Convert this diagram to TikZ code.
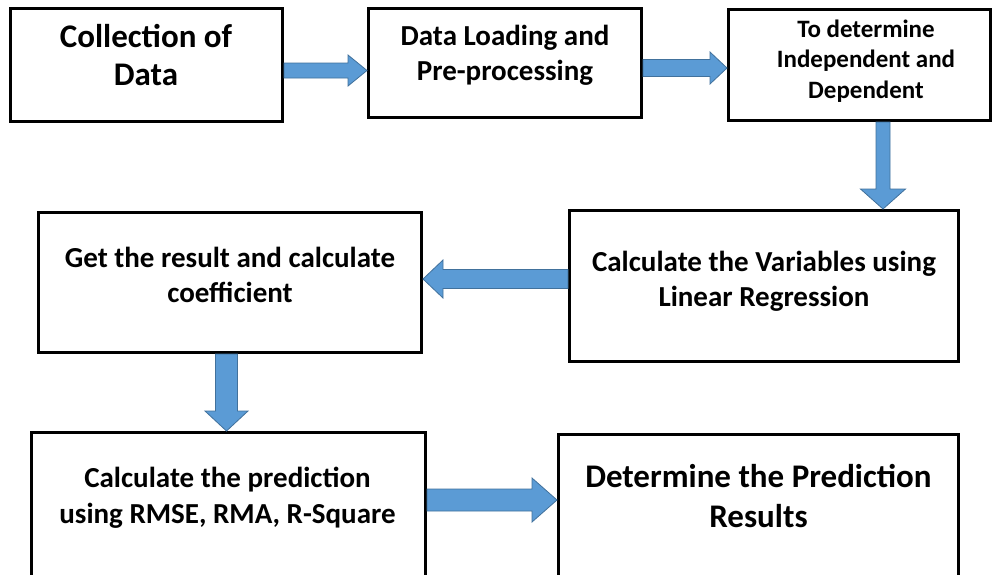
\documentclass[tikz,border=0pt]{standalone}
\usepackage{fontspec}
\setmainfont{Carlito}
\usetikzlibrary{calc}
\definecolor{arrowfill}{RGB}{91,155,213}
\definecolor{arrowedge}{RGB}{65,113,156}
\newcommand\blkright[5]{\draw[barrow] ($(#1)+(0,-#3)$) -- ($(#2)+(-#5,-#3)$) -- ($(#2)+(-#5,-#4)$) -- (#2) -- ($(#2)+(-#5,#4)$) -- ($(#2)+(-#5,#3)$) -- ($(#1)+(0,#3)$) -- cycle;}
\newcommand\blkleft[5]{\draw[barrow] ($(#1)+(0,-#3)$) -- ($(#2)+(#5,-#3)$) -- ($(#2)+(#5,-#4)$) -- (#2) -- ($(#2)+(#5,#4)$) -- ($(#2)+(#5,#3)$) -- ($(#1)+(0,#3)$) -- cycle;}
\newcommand\blkdown[5]{\draw[barrow] ($(#1)+(-#3,0)$) -- ($(#2)+(-#3,-#5)$) -- ($(#2)+(-#4,-#5)$) -- (#2) -- ($(#2)+(#4,-#5)$) -- ($(#2)+(#3,-#5)$) -- ($(#1)+(#3,0)$) -- cycle;}
\begin{document}
\begin{tikzpicture}[x=1pt,y=-1pt,
  box/.style={draw=black, line width=3pt, fill=white, inner sep=0pt},
  txt/.style={align=center, inner sep=0pt, anchor=base},
  barrow/.style={fill=arrowfill, draw=arrowedge, line width=0.8pt, line join=miter}]
\useasboundingbox (0,0) rectangle (994,574);
\clip (0,0) rectangle (994,574);
\fill[white] (0,0) rectangle (994,574);
% boxes
\node[box, minimum width=272pt, minimum height=113pt] (b1) at (146.5,65) {};
\node[box, minimum width=273pt, minimum height=109pt] (b2) at (505,63) {};
\node[box, minimum width=262pt, minimum height=111pt] (b3) at (859.5,65) {};
\node[box, minimum width=389pt, minimum height=151pt] (b4) at (764,286) {};
\node[box, minimum width=383pt, minimum height=140pt] (b5) at (230,282.5) {};
\node[box, minimum width=394pt, minimum height=166pt] (b6) at (228.5,515.5) {};
\node[box, minimum width=400pt, minimum height=164pt] (b7) at (758.5,516.5) {};
% texts (anchor base = baseline of the last line)
\node[txt, font=\fontsize{33}{38}\selectfont\bfseries] (t1) at (146,85) {Collection of\\Data};
\node[txt, font=\fontsize{29}{35}\selectfont\bfseries] (t2) at (505,80) {Data Loading and\\Pre-processing};
\node[txt, font=\fontsize{25}{30.5}\selectfont\bfseries] (t3) at (866,98) {To determine\\Independent and\\Dependent};
\node[txt, font=\fontsize{29}{35}\selectfont\bfseries] (t4) at (764,306) {Calculate the Variables using\\Linear Regression};
\node[txt, font=\fontsize{29}{35}\selectfont\bfseries] (t5) at (230,302) {Get the result and calculate\\coefficient};
\node[txt, font=\fontsize{29}{36}\selectfont\bfseries] (t6) at (227.5,523) {Calculate the prediction\\using RMSE, RMA, R-Square};
\node[txt, font=\fontsize{33}{40}\selectfont\bfseries] (t7) at (758.5,527) {Determine the Prediction\\Results};
% arrows
\coordinate (a1s) at (b1.east |- 0,70.5);
\coordinate (a1e) at (b2.west |- 0,70.5);
\coordinate (a2s) at (b2.east |- 0,68);
\coordinate (a2e) at (b3.west |- 0,68);
\coordinate (a3s) at (b3.south -| 883,0);
\coordinate (a3e) at (b4.north -| 883,0);
\coordinate (a4s) at (b4.west |- 0,279);
\coordinate (a4e) at (b5.east |- 0,279);
\coordinate (a5s) at (b5.south -| 226.5,0);
\coordinate (a5e) at (b6.north -| 226.5,0);
\coordinate (a6s) at (b6.east |- 0,500);
\coordinate (a6e) at (b7.west |- 0,500);
\blkright{a1s}{a1e}{7.5}{15.5}{19}
\blkright{a2s}{a2e}{8.5}{16}{17}
\blkdown{a3s}{a3e}{7}{22.5}{20}
\blkleft{a4s}{a4e}{9.5}{19}{20}
\blkdown{a5s}{a5e}{11}{21.5}{20}
\blkright{a6s}{a6e}{11}{22}{25}
\end{tikzpicture}
\end{document}
